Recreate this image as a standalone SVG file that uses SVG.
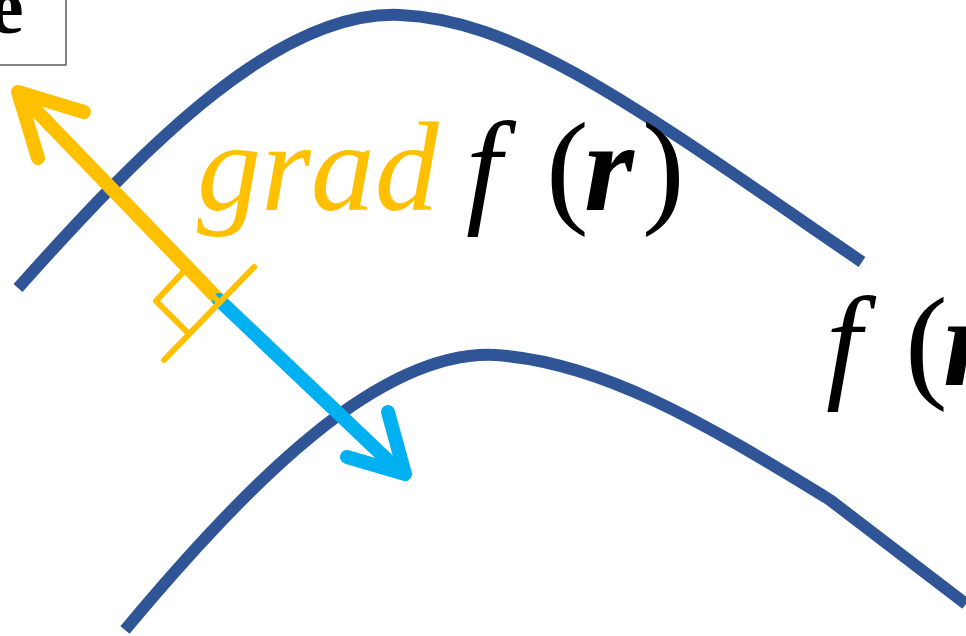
<svg xmlns="http://www.w3.org/2000/svg" width="966" height="636" viewBox="0 0 966 636">
<style>
.curve{fill:none;stroke:#2F5597;stroke-width:12}
.yel{fill:none;stroke:#FFC000;stroke-linecap:round;stroke-linejoin:round}
.blu{fill:none;stroke:#00B0F0;stroke-linecap:round;stroke-linejoin:round}
text{font-family:'Liberation Serif','Tinos','DejaVu Serif',serif;font-size:128px}
</style>
<rect width="966" height="636" fill="#fff"/>
<g id="box">
<rect x="-20" y="-20" width="86" height="85" fill="#fff" stroke="#333" stroke-width="1.2"/>
<text x="-11" y="33" font-weight="bold" style="font-size:78px">e</text>
</g>
<g id="curves">
<path class="curve" d="M18,288 C150,140 280,10 400,15 C520,20 640,110 862,262"/>
<path class="curve" d="M125,630 C250,480 380,350 495,355 C600,362 700,420 830,500 L966,604"/>
</g>
<g id="connectors">
<path class="yel" stroke-width="14" stroke-linecap="butt" d="M219,300 L26,100"/>
<path class="yel" stroke-width="14" d="M84,112 L18,92 L38,158"/>
<path class="blu" stroke-width="14" stroke-linecap="butt" d="M219,300 L398,470"/>
<path class="blu" stroke-width="14" d="M347,457 L405,474 L388,412"/>
<g id="rightangle">
<path class="yel" stroke-width="6" stroke-linecap="butt" d="M254,267 L164,360"/>
<path class="yel" stroke-width="6" stroke-linecap="butt" d="M218,301 L186,269 L156,301 L187,332"/>
</g>
</g>
<g id="label1">
<text x="197" y="210" font-style="italic" fill="#FFC000">grad</text>
<text x="466" y="210" font-style="italic">f</text>
<text x="546" y="210">(</text>
<text x="584" y="210" font-style="italic" font-weight="bold">r</text>
<text x="642" y="210">)</text>
</g>
<g id="label2">
<text x="826" y="385" font-style="italic">f</text>
<text x="905" y="385">(</text>
<text x="943" y="385" font-style="italic" font-weight="bold">r</text>
</g>
</svg>
